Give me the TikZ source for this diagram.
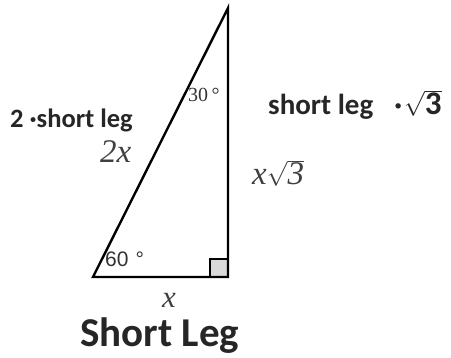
\documentclass[tikz,border=0pt]{standalone}
\usepackage{fontspec}
\setmainfont{Liberation Serif}
\newfontfamily\carl{Carlito}
\newfontfamily\lsans{Liberation Sans}
\begin{document}
\begin{tikzpicture}[x=1pt,y=-1pt,
  edge/.style={line width=2.4pt,line join=miter},
  sanslbl/.style={font=\carl\bfseries\fontsize{29}{31}\selectfont,text=black!85,inner sep=0pt,anchor=base west},
  mathlbl/.style={font=\itshape\fontsize{33}{35}\selectfont,text=black!75,inner sep=0pt,anchor=base west},
  anglbl/.style={inner sep=0pt,text=black!80,anchor=base west}]
\useasboundingbox (0,0) rectangle (451,358);
\coordinate (T) at (228,8);
\coordinate (A) at (93,277);
\coordinate (B) at (228,277);
\fill[black!15] (210,259) rectangle (228,277);
\draw[line width=1.4pt] (210,277) -- (210,259) -- (228,259);
\draw[edge] (A) -- (T) -- (B) -- cycle;
\node[anglbl,font=\fontsize{20}{22}\selectfont] (a30) at (188,102) {30\,°};
\node[anglbl,font=\lsans\fontsize{21}{23}\selectfont] (a60) at (105,267) {60\,\,°};
\node[sanslbl,font=\carl\bfseries\fontsize{26.5}{28}\selectfont] (hyp) at (10,128) {2 ·short leg};
\node[sanslbl] (lng) at (268,115) {short leg\enspace\ ·\hspace{2pt}{\fontsize{33}{35}\selectfont$\sqrt{\mbox{3}}$}};
\node[mathlbl] (twox) at (100,163) {2x};
\node[mathlbl] (xr3) at (252,185) {x$\sqrt{\mbox{\itshape 3}}$};
\node[mathlbl,anchor=base,text depth=0pt,font=\itshape\fontsize{31}{33}\selectfont] (xs) at (169,308) {x};
\node[sanslbl,text height=29pt,font=\carl\bfseries\fontsize{41}{43}\selectfont] (sl) at (80,347) {Short Leg};
\end{tikzpicture}
\end{document}
